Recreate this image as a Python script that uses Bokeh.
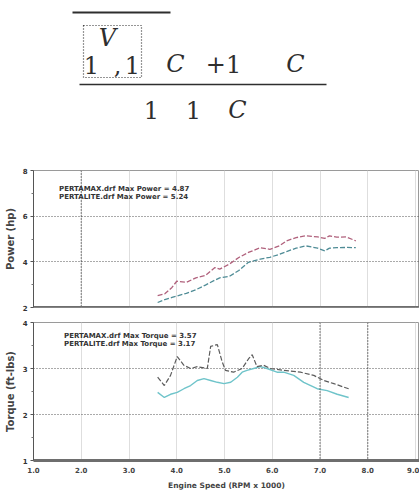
from bokeh.plotting import figure
from bokeh.models import (Range1d, FixedTicker, Span, Legend, LegendItem,
                          ColumnDataSource, Grid, Label, PrintfTickFormatter)
from bokeh.layouts import column
from bokeh.embed import file_html
from bokeh.resources import INLINE

# ---------------- data ----------------
rpm_ticks = [1.0, 2.0, 3.0, 4.0, 5.0, 6.0, 7.0, 8.0, 9.0]
power_ticks = [2, 4, 6, 8]
torque_ticks = [1, 2, 3, 4]
power_marker_rpm = [2.0]
torque_marker_rpm = [7.0, 8.0]

power_rpm = [3.6, 3.75, 3.9, 4.0, 4.2, 4.4, 4.6, 4.8, 4.9, 5.1, 5.3, 5.5,
             5.75, 5.95, 6.15, 6.3, 6.5, 6.7, 6.95, 7.1, 7.2, 7.35, 7.55, 7.75]
power_pertamax = [2.22, 2.35, 2.44, 2.5, 2.62, 2.78, 2.98, 3.2, 3.3, 3.36, 3.62, 3.98,
                  4.12, 4.2, 4.33, 4.45, 4.6, 4.7, 4.6, 4.48, 4.6, 4.62, 4.63, 4.62]
power_pertalite = [2.52, 2.6, 2.88, 3.15, 3.1, 3.3, 3.4, 3.75, 3.68, 3.9, 4.19, 4.41,
                   4.62, 4.55, 4.7, 4.92, 5.06, 5.14, 5.09, 5.03, 5.14, 5.08, 5.09, 4.92]

torque_rpm_dash = [3.6, 3.74, 3.87, 4.01, 4.15, 4.29, 4.43, 4.64, 4.71, 4.85, 4.95, 5.02,
                   5.19, 5.37, 5.51, 5.58, 5.68, 5.82, 5.96, 6.24, 6.59, 6.87, 7.08, 7.29, 7.6]
torque_dash = [2.81, 2.63, 2.85, 3.26, 3.07, 3.0, 3.04, 3.0, 3.48, 3.52, 3.15, 2.96,
               2.92, 3.0, 3.22, 3.3, 3.04, 3.07, 3.0, 2.96, 2.92, 2.85, 2.74, 2.67, 2.56]
torque_rpm_solid = [3.6, 3.74, 3.87, 4.01, 4.15, 4.29, 4.43, 4.57, 4.71, 4.85, 4.99, 5.13, 5.27,
                    5.37, 5.47, 5.61, 5.75, 5.89, 6.1, 6.24, 6.45, 6.66, 6.94, 7.15, 7.36, 7.6]
torque_solid = [2.48, 2.37, 2.44, 2.48, 2.56, 2.63, 2.74, 2.78, 2.74, 2.7, 2.67, 2.7, 2.81,
                2.92, 2.96, 3.0, 3.04, 3.0, 2.92, 2.92, 2.85, 2.7, 2.56, 2.52, 2.44, 2.37]

power_labels = ["PERTAMAX.drf Max Power = 4.87", "PERTALITE.drf Max Power = 5.24"]
torque_labels = ["PERTAMAX.drf Max Torque = 3.57", "PERTALITE.drf Max Torque = 3.17"]

FONT = "DejaVu Sans"
SERIF = "DejaVu Serif"
INK = "#2e2e2e"
W = 419
LEFT = 33

# ---------------- formula block ----------------
# frames of the column are aligned, so this block's frame starts at x = LEFT
f = figure(width=W, height=160, x_range=Range1d(LEFT, W), y_range=Range1d(160, 0),
           min_border=0, min_border_left=LEFT, toolbar_location=None, output_backend="svg",
           x_axis_location=None, y_axis_location=None, outline_line_color=None)
f.grid.visible = False
f.segment(x0=[72], y0=[12], x1=[170], y1=[12], line_color=INK, line_width=2)
f.segment(x0=[79], y0=[84], x1=[326], y1=[84], line_color=INK, line_width=1.6)
f.quad(left=[83], right=[141], top=[25], bottom=[77], fill_color=None,
       line_color=INK, line_dash="1 2", line_width=1.2)

def tok(x, y, t, italic=False, size="24px"):
    f.add_layout(Label(x=x, y=y, text=t, text_align="center", text_baseline="middle",
                       text_font=SERIF, text_font_size=size, text_color=INK,
                       text_font_style="italic" if italic else "normal"))

tok(107, 37, "V", italic=True)
tok(91, 64, "1")
tok(117, 64, ",")
tok(132, 64, "1")
tok(175, 63, "C", italic=True)
tok(223, 63, "+1")
tok(295, 63, "C", italic=True)
tok(151, 109, "1")
tok(193, 109, "1")
tok(237, 109, "C", italic=True)

# ---------------- chart helpers ----------------
def style_y(p, ticks, minor, label):
    ax = p.yaxis[0]
    ax.ticker = FixedTicker(ticks=ticks, minor_ticks=minor)
    ax.axis_label = label
    ax.axis_label_text_font = FONT
    ax.axis_label_text_font_size = "10px"
    ax.axis_label_text_font_style = "bold"
    ax.axis_label_text_color = "#444444"
    ax.axis_label_standoff = 4
    ax.major_label_text_font = FONT
    ax.major_label_text_font_size = "7px"
    ax.major_label_text_font_style = "bold"
    ax.major_label_text_color = "#333333"
    ax.major_label_standoff = 3
    ax.major_tick_in = 0
    ax.major_tick_out = 3
    ax.minor_tick_in = 0
    ax.minor_tick_out = 2
    ax.axis_line_color = "#555555"
    ax.major_tick_line_color = "#555555"
    ax.minor_tick_line_color = "#777777"

def grids(p, yticks):
    p.add_layout(Grid(dimension=0, ticker=FixedTicker(ticks=rpm_ticks),
                      grid_line_color="#dedede", grid_line_width=1))
    p.add_layout(Grid(dimension=1, ticker=FixedTicker(ticks=yticks),
                      grid_line_color="#555555", grid_line_dash="1 2", grid_line_width=1))

def legend(p, labels, colors, loc):
    items = []
    for lab, c in zip(labels, colors):
        r = p.scatter(x=[], y=[], marker="square", size=6, fill_color=c, line_color="#333333")
        items.append(LegendItem(label=lab, renderers=[r]))
    lg = Legend(items=items, location=loc, orientation="vertical",
                label_text_font=FONT, label_text_font_size="7px",
                label_text_font_style="bold", label_text_color="#333333",
                glyph_width=6, glyph_height=6, label_height=6, label_standoff=3,
                spacing=0, padding=0, margin=0, border_line_color=None,
                background_fill_alpha=0)
    p.add_layout(lg)

XR = (1.0, 1.0 + (W - LEFT) / 47.75)

# ---------------- power panel ----------------
pw = figure(width=W, height=153, x_range=Range1d(*XR), y_range=Range1d(2, 8),
            min_border_left=LEFT, min_border_right=0, min_border_top=10, min_border_bottom=6,
            toolbar_location=None, output_backend="svg", x_axis_location=None,
            outline_line_color="#9a9a9a")
pw.grid.visible = False
grids(pw, power_ticks)
style_y(pw, power_ticks, [3, 5, 7], "Power (hp)")
for xv in power_marker_rpm:
    pw.add_layout(Span(location=xv, dimension="height", line_color="#333333",
                       line_dash="1 2", line_width=1.2))
pw.add_layout(Span(location=power_ticks[0], dimension="width", line_color="#6e6e6e", line_width=3))
src_p = ColumnDataSource(dict(rpm=power_rpm, a=power_pertamax, b=power_pertalite))
pw.line("rpm", "a", source=src_p, line_color="#4f8c96", line_width=1.3, line_dash="5 2")
pw.line("rpm", "b", source=src_p, line_color="#b0617c", line_width=1.3, line_dash="5 2")
legend(pw, power_labels, ["#8c97b8", "#c97d97"], (17, 106))

# ---------------- torque panel ----------------
tq = figure(width=W, height=183, x_range=Range1d(*XR), y_range=Range1d(1, 4),
            min_border_left=LEFT, min_border_right=0, min_border_top=9, min_border_bottom=36,
            toolbar_location=None, output_backend="svg", outline_line_color="#9a9a9a")
tq.grid.visible = False
grids(tq, torque_ticks)
style_y(tq, torque_ticks, [1.5, 2.5, 3.5], "Torque (ft-lbs)")
xa = tq.xaxis[0]
xa.ticker = FixedTicker(ticks=rpm_ticks)
xa.formatter = PrintfTickFormatter(format="%.1f")
xa.axis_label = "Engine Speed (RPM x 1000)"
xa.axis_label_text_font = FONT
xa.axis_label_text_font_size = "7.5px"
xa.axis_label_text_font_style = "bold"
xa.axis_label_text_color = "#444444"
xa.axis_label_standoff = 5
xa.major_label_text_font = FONT
xa.major_label_text_font_size = "7px"
xa.major_label_text_font_style = "bold"
xa.major_label_text_color = "#444444"
xa.major_label_standoff = 6
xa.major_tick_in = 0
xa.major_tick_out = 0
xa.minor_tick_out = 0
xa.axis_line_color = "#6e6e6e"
xa.axis_line_width = 3
for xv in torque_marker_rpm:
    tq.add_layout(Span(location=xv, dimension="height", line_color="#333333",
                       line_dash="1 2", line_width=1.2))
src_td = ColumnDataSource(dict(rpm=torque_rpm_dash, t=torque_dash))
src_ts = ColumnDataSource(dict(rpm=torque_rpm_solid, t=torque_solid))
tq.line("rpm", "t", source=src_ts, line_color="#6fc4ca", line_width=1.4)
tq.line("rpm", "t", source=src_td, line_color="#5c5c5c", line_width=1.2, line_dash="5 2")
legend(tq, torque_labels, ["#2b2f6e", "#6e2b4c"], (22, 112))

layout = column(f, pw, tq, spacing=0)
open("out.html", "w").write(file_html(layout, INLINE))
